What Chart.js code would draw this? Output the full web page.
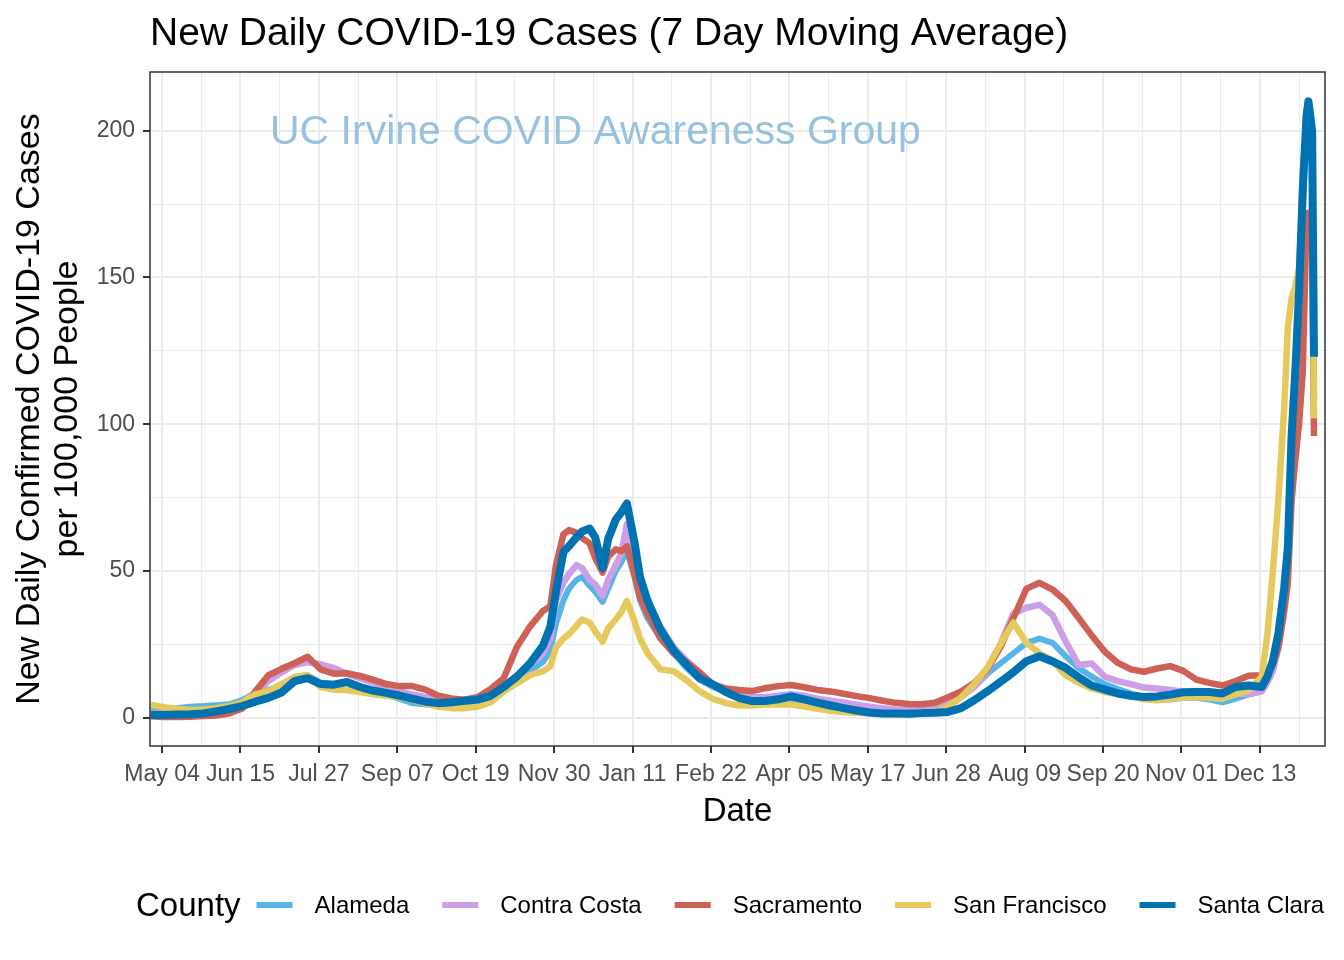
<!DOCTYPE html>
<html>
<head>
<meta charset="utf-8">
<title>New Daily COVID-19 Cases</title>
<script src="https://cdn.jsdelivr.net/npm/chart.js@4.4.1/dist/chart.umd.min.js"></script>
<style>
  html, body { margin: 0; padding: 0; background: #ffffff; }
  #chart { display: block; }
</style>
</head>
<body>
<canvas id="chart" width="1344" height="960"></canvas>
<script>
// days since 2020-05-04 (the first x tick)
var days = [-6, 1, 8, 15, 22, 29, 36, 43, 50, 57, 64, 71, 78, 85, 92, 99, 106, 113, 120, 127, 134, 141, 148, 155, 162, 169, 176, 183, 190, 197, 204,
  208, 211, 215, 218, 222, 225, 229, 232, 236, 239, 243, 246, 249, 253, 256, 260,
  267, 274, 281, 288, 295, 302, 309, 316, 323, 330, 337, 344, 351, 358, 365, 372, 379, 386, 393, 400, 407, 414, 421, 428, 435, 442, 449, 456, 463, 470, 477, 484, 491, 498, 505, 512, 519, 526, 533, 540, 547, 554, 561, 568, 575, 582, 589,
  592, 595, 598, 601, 603, 605, 607, 609, 611, 613, 614, 616, 617];

var alameda = [2.5, 2.8, 3.3, 3.8, 4.0, 4.3, 4.6, 6.0, 8.5, 9.5, 11, 14, 14.5, 12, 11.5, 12, 10.5, 9, 8, 6.5, 5.0, 4.5, 4.2, 4.5, 5, 5.5, 6.5, 10, 13, 16, 19,
  23, 32, 40, 44, 47, 48, 45, 43, 39.5, 44, 50, 53, 57, 48, 40, 34,
  27, 22, 17, 13, 10.5, 9, 7.5, 6.2, 5.8, 6, 6.5, 5.8, 4.8, 4, 3.2, 2.5, 1.9, 1.6, 1.5, 1.5, 1.8, 2.3, 4, 7, 10.5, 15, 18.5, 22, 25.5, 27, 25.5, 21, 17, 14, 11.5, 9.8, 8.3, 7, 6.3, 6.2, 6.8, 6.8, 6.2, 5.3, 6.5, 8, 9,
  13, 17, 25, 40, 52, 85, 110, 142, 179, 205, 210, 200, 110];

var contraCosta = [1.5, 1.5, 1.7, 2.0, 2.4, 2.8, 3.5, 5, 8.5, 12.5, 15.5, 18, 19, 18.2, 17, 15, 13.5, 12, 10.5, 9, 8, 7, 6, 5.5, 6, 7, 8.5, 11, 14, 18, 22,
  27, 40, 46, 49, 52, 51, 47, 45.5, 41.5, 47, 52, 56, 66, 52, 43, 37,
  31, 24, 19.5, 15, 11, 9.5, 8, 7, 7, 7.5, 8, 7.5, 6.5, 5.8, 5.2, 4.5, 3.8, 3.2, 2.8, 2.6, 2.8, 3.3, 5, 7.5, 10.5, 16, 25, 35.5, 37.5, 38.5, 35, 26, 18, 18.5, 14, 12.5, 11.5, 10.3, 10, 9.5, 8.9, 8.8, 8.6, 8.2, 8.5, 8, 9,
  12, 16, 24, 38, 50, 82, 105, 140, 177, 205, 210, 200, 108];

var sacramento = [0.5, 0.3, 0.3, 0.4, 0.6, 0.8, 1.5, 3.2, 9, 14.5, 16.7, 18.6, 20.8, 16.5, 15, 15.2, 14.3, 13, 11.5, 10.8, 10.8, 9.6, 7.5, 6.6, 6.2, 7, 9.8, 13.5, 24, 31, 36.4,
  38, 52, 62.5, 64, 63, 61.2, 59.5, 54.5, 49.5, 55, 57.4, 56.8, 58.5, 49, 41, 35.5,
  27, 22, 19, 15.5, 11.5, 10, 9.5, 9.1, 10.1, 10.8, 11.2, 10.4, 9.5, 9, 8.2, 7.4, 6.7, 5.8, 5.1, 4.7, 4.6, 5.1, 7, 9, 11.9, 16.5, 24, 34, 44, 46, 43.7, 39.8, 34, 28, 22.5, 18.7, 16.5, 15.7, 16.8, 17.6, 16, 13, 11.9, 11, 12.5, 14.3, 14.5,
  15.5, 18, 24, 36, 46, 74, 88, 100, 118, 170, 172, 170, 96];

var sanFrancisco = [4.4, 3.6, 3.0, 2.7, 2.8, 3.3, 4.0, 5.2, 8, 9.2, 11.5, 13.8, 14.5, 10.5, 9.6, 9.5, 8.8, 8, 7.5, 7, 6.2, 4.8, 3.8, 3.3, 3.3, 3.8, 5.3, 9, 11.8, 14.5, 15.9,
  17.5, 24, 27, 28.5, 31.3, 33.5, 32.5, 29.5, 26, 30.5, 33.5, 36, 39.8, 33, 27, 22,
  16.5, 15.9, 12.8, 9, 6.5, 5, 4.2, 4.2, 4.5, 4.5, 4.5, 3.8, 3.1, 2.4, 2.0, 1.7, 1.5, 1.3, 1.1, 1.2, 1.5, 2.0, 3.8, 7, 11.5, 17, 25, 32.5, 25.5, 22, 19.5, 14.5, 12, 10, 8.8, 8, 7.3, 6.3, 6, 6.5, 7, 7.1, 6.8, 6.5, 8, 9.4, 14,
  28, 50, 75, 105, 133, 143, 147, 153, 183, 205, 210, 200, 102];

var santaClara = [1.0, 1.0, 1.1, 1.2, 1.5, 2.2, 3.0, 4.0, 5.5, 6.8, 8.6, 12.5, 13.5, 11.5, 11.3, 12.2, 10.5, 9.3, 8.5, 7.6, 6.5, 5.5, 5.0, 5.3, 5.8, 6.2, 7.5, 10.5, 14, 18.5, 24.5,
  31, 43, 56.5, 58.5, 61.5, 63.5, 64.5, 61.5, 51, 61, 67.5, 70, 73, 60, 48, 40,
  30, 23, 18, 13.5, 11.4, 8.8, 6.8, 5.7, 5.7, 6.3, 7.3, 6.3, 5.2, 4.2, 3.3, 2.5, 1.8, 1.5, 1.5, 1.4, 1.6, 1.7, 2.0, 3.3, 6.0, 9.0, 12.2, 15.5, 19.3, 21, 19.2, 17, 13.8, 11, 9.6, 8.3, 7.5, 7.1, 7.3, 7.9, 8.7, 8.8, 8.8, 8.3, 10.5, 11, 10.5,
  14, 19.5, 29, 44, 58, 96, 118, 145, 180, 205, 210, 200, 123];

var counties = ['Alameda', 'Contra Costa', 'Sacramento', 'San Francisco', 'Santa Clara'];
var seriesValues = [alameda, contraCosta, sacramento, sanFrancisco, santaClara];
var colors = ['#56b4e9', '#cc9fe6', '#cd6155', '#e6c95c', '#0072b2'];
var widths = [6, 6.5, 6.5, 6.5, 8];

// x ticks every 42 days starting at 2020-05-04 (day 0)
var xTickDays = [0, 42, 84, 126, 168, 210, 252, 294, 336, 378, 420, 462, 504, 546, 588];
var xTickLabels = ['May 04', 'Jun 15', 'Jul 27', 'Sep 07', 'Oct 19', 'Nov 30', 'Jan 11', 'Feb 22', 'Apr 05', 'May 17', 'Jun 28', 'Aug 09', 'Sep 20', 'Nov 01', 'Dec 13'];
var yTickValues = [0, 50, 100, 150, 200];

var FONT = '"Liberation Sans", Arial, Helvetica, sans-serif';
Chart.defaults.font.family = FONT;

function withMinor(majors) {
  var out = [];
  for (var i = 0; i < majors.length; i++) {
    out.push({ value: majors[i], major: true });
    var next = i < majors.length - 1 ? majors[i + 1] : majors[i] + (majors[i] - majors[i - 1]);
    out.push({ value: (majors[i] + next) / 2, major: false });
  }
  return out;
}

function isMajor(ctx) {
  return ctx.tick && ctx.tick.major;
}

var decorations = {
  id: 'decorations',
  beforeDatasetsDraw: function (chart) {
    var c = chart.ctx;
    c.save();
    c.font = '41px ' + FONT;
    c.fillStyle = '#96c2de';
    c.textAlign = 'left';
    c.textBaseline = 'alphabetic';
    c.fillText('UC Irvine COVID Awareness Group', 270, 144);
    c.restore();
  },
  afterDatasetsDraw: function (chart) {
    var a = chart.chartArea, c = chart.ctx;
    c.save();
    c.strokeStyle = '#333333';
    c.lineWidth = 1.5;
    c.strokeRect(a.left, a.top, a.right - a.left, a.bottom - a.top);
    c.restore();
  },
  afterDraw: function (chart) {
    var c = chart.ctx;
    c.save();
    c.fillStyle = '#000000';
    c.textAlign = 'left';
    c.textBaseline = 'alphabetic';
    c.font = '39px ' + FONT;
    c.fillText('New Daily COVID-19 Cases (7 Day Moving Average)', 150, 45);

    // legend
    var y = 905;
    c.font = '33px ' + FONT;
    c.fillText('County', 136, y + 11);
    var x = 136 + c.measureText('County').width + 16;
    c.font = '24px ' + FONT;
    chart.data.datasets.forEach(function (ds) {
      c.strokeStyle = ds.borderColor;
      c.lineWidth = 6;
      c.lineCap = 'butt';
      c.beginPath();
      c.moveTo(x, y);
      c.lineTo(x + 36, y);
      c.stroke();
      x += 36 + 22;
      c.fillText(ds.label, x, y + 8);
      x += c.measureText(ds.label).width + 33;
    });
    c.restore();
  }
};

var ctx = document.getElementById('chart').getContext('2d');

var chart = new Chart(ctx, {
  type: 'line',
  data: {
    datasets: counties.map(function (name, k) {
      return {
        label: name,
        data: days.map(function (d, i) { return { x: d, y: seriesValues[k][i] }; }),
        borderColor: colors[k],
        backgroundColor: colors[k],
        borderWidth: widths[k],
        // lower order is drawn later, so Santa Clara ends up on top
        order: counties.length - 1 - k,
        pointRadius: 0,
        tension: 0,
        fill: false,
        borderJoinStyle: 'round',
        borderCapStyle: 'butt'
      };
    })
  },
  options: {
    responsive: false,
    animation: false,
    layout: { padding: { left: 0, right: 19, top: 72, bottom: 120 } },
    plugins: {
      legend: { display: false },
      tooltip: { enabled: false },
      title: { display: false }
    },
    scales: {
      x: {
        type: 'linear',
        min: -6.43,
        max: 622.9,
        afterBuildTicks: function (scale) {
          scale.ticks = withMinor(xTickDays).filter(function (t) { return t.value <= 622.9; });
        },
        afterFit: function (scale) { scale.height = 94; },
        border: { display: false },
        grid: {
          color: '#ebebeb',
          lineWidth: function (c) { return isMajor(c) ? 2 : 1; },
          drawTicks: true,
          tickLength: 7,
          tickColor: function (c) { return isMajor(c) ? '#333333' : 'rgba(0,0,0,0)'; },
          tickWidth: function (c) { return isMajor(c) ? 2 : 0; }
        },
        ticks: {
          autoSkip: false,
          maxRotation: 0,
          minRotation: 0,
          padding: 8,
          color: '#4d4d4d',
          font: { size: 23 },
          callback: function (value) {
            var i = xTickDays.indexOf(value);
            return i >= 0 ? xTickLabels[i] : '';
          }
        },
        title: {
          display: true,
          text: 'Date',
          color: '#000000',
          font: { size: 33, lineHeight: 1.15 },
          padding: { top: 0, bottom: 9 }
        }
      },
      y: {
        type: 'linear',
        min: -9.6,
        max: 220,
        afterBuildTicks: function (scale) {
          scale.ticks = withMinor(yTickValues).filter(function (t) { return t.value <= 220; });
        },
        afterFit: function (scale) { scale.width = 150; },
        border: { display: false },
        grid: {
          color: '#ebebeb',
          lineWidth: function (c) { return isMajor(c) ? 2 : 1; },
          drawTicks: true,
          tickLength: 7,
          tickColor: function (c) { return isMajor(c) ? '#333333' : 'rgba(0,0,0,0)'; },
          tickWidth: function (c) { return isMajor(c) ? 2 : 0; }
        },
        ticks: {
          padding: 8,
          color: '#4d4d4d',
          font: { size: 23 },
          callback: function (value) {
            return yTickValues.indexOf(value) >= 0 ? String(value) : '';
          }
        },
        title: {
          display: true,
          text: ['New Daily Confirmed COVID-19 Cases', 'per 100,000 People'],
          color: '#000000',
          font: { size: 34, lineHeight: 1.12 },
          padding: { top: 11, bottom: 0 }
        }
      }
    }
  },
  plugins: [decorations]
});
</script>
</body>
</html>
